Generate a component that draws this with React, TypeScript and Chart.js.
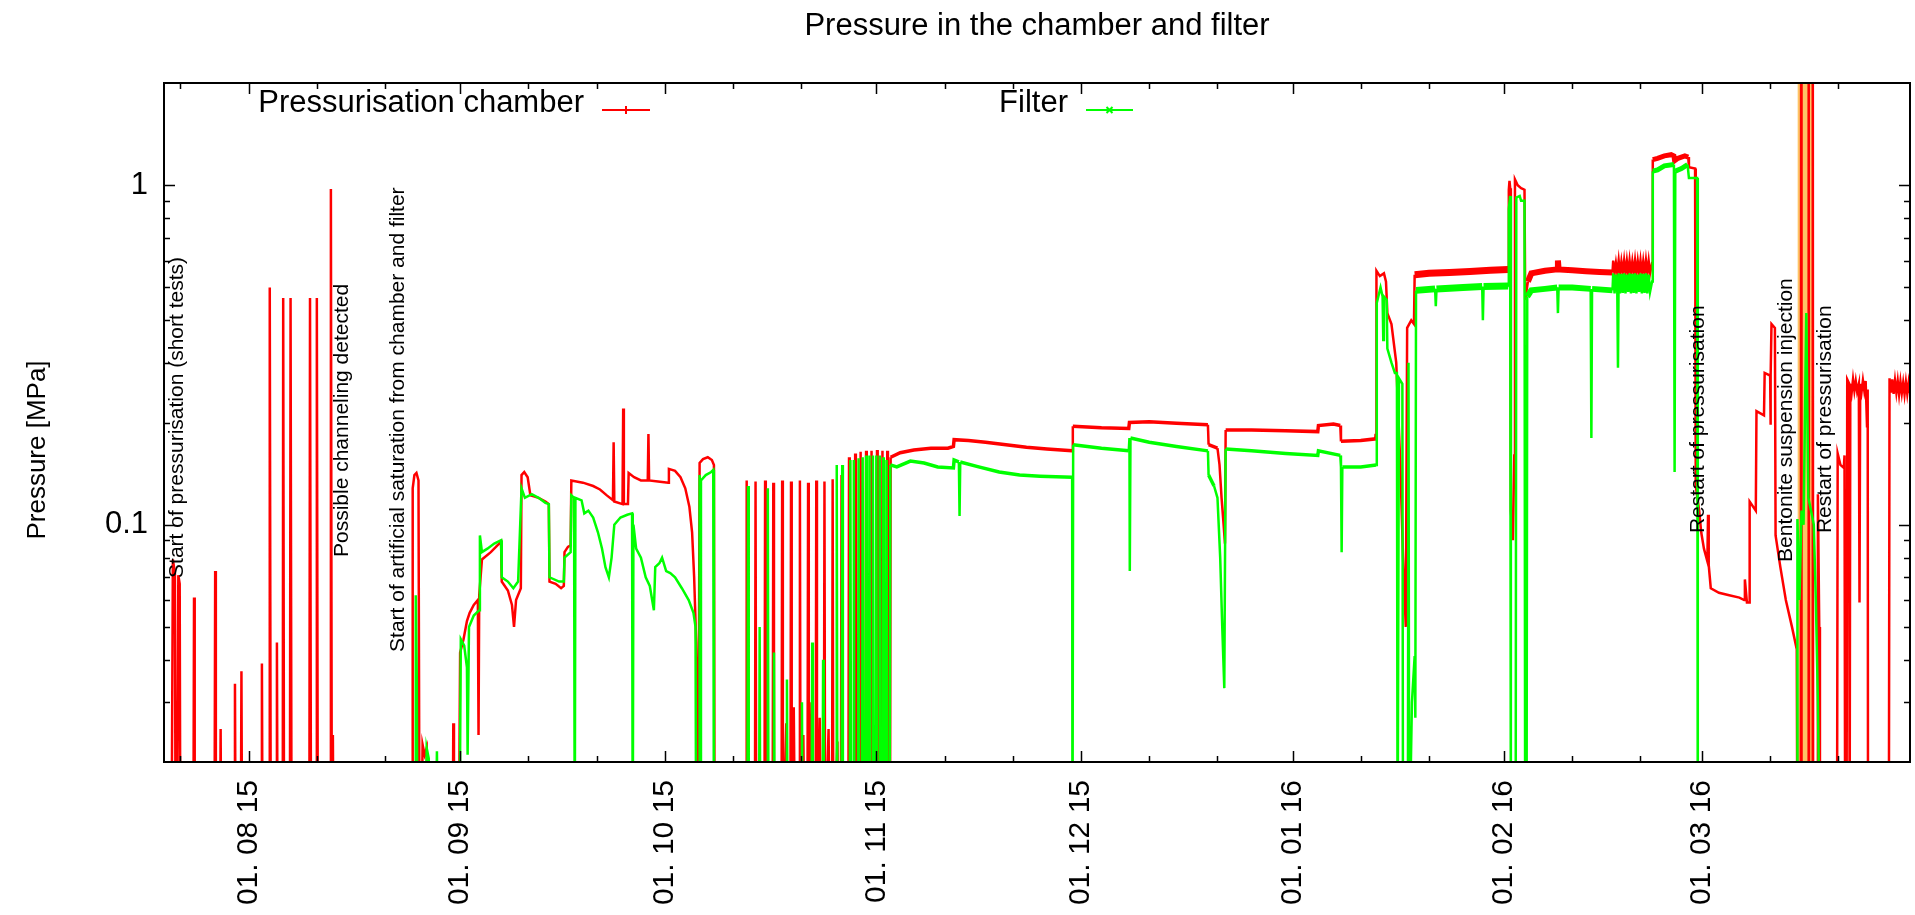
import React, { useEffect, useRef } from 'react';
import { Chart, registerables } from 'chart.js';

Chart.register(...registerables);

type Pt = [number, number];

// ---------- texts ----------
const CHART_TITLE = 'Pressure in the chamber and filter';
const Y_TITLE = 'Pressure [MPa]';
const SERIES_NAMES = ['Pressurisation chamber', 'Filter'];

// ---------- axes (x = days since 01.08.2015) ----------
const X_MIN = -12.4;
const X_MAX = 243.5;
const Y_MIN = 0.02;
const Y_MAX = 2;
const monthTickDays = [0, 31, 61, 92, 122, 153, 184, 213];
const monthTickLabels = ['01. 08 15', '01. 09 15', '01. 10 15', '01. 11 15', '01. 12 15', '01. 01 16', '01. 02 16', '01. 03 16'];
const minorTickDays = [-10, 10, 20, 41, 51, 71, 81, 102, 112, 132, 142, 163, 173, 194, 204, 223, 233];
const yMajorTicks = [0.1, 1];
const yMajorLabels = ['0.1', '1'];
const yMinorTicks = [0.02, 0.03, 0.04, 0.05, 0.06, 0.07, 0.08, 0.09, 0.2, 0.3, 0.4, 0.5, 0.6, 0.7, 0.8, 0.9];

// ---------- event annotations (text start point: day, MPa) ----------
const annotationTexts = [
  'Start of pressurisation (short tests)',
  'Possible channeling detected',
  'Start of artificial saturation from chamber and filter',
  'Restart of pressurisation',
  'Bentonite suspension injection',
  'Restart of pressurisation',
];
const annotationAnchors: Pt[] = [
  [-10.5, 0.0697],
  [13.7, 0.0803],
  [21.9, 0.0422],
  [212.4, 0.0945],
  [225.4, 0.0777],
  [231.0, 0.0945],
];

// bentonite injection period (shaded)
const injectionBand: Pt[] = [[227.0, 10], [229.3, 10]];

// periods where the logged signal is a noisy band (start day, end day)
const chamberNoisyPeriods: Pt[] = [[94.1, 165.25], [170.9, 184.6], [187.5, 199.9], [205.8, 211.0]];
const filterNoisyPeriods: Pt[] = [[94.05, 165.25], [171.1, 184.6], [187.4, 199.9], [205.8, 211.0]];

// ---------- Pressurisation chamber [MPa] ----------
const chamberTests: Pt[] = [
  [-11.3, 0.01], [-11.1, 0.079], [-10.8, 0.072], [-10.7, 0.01], [-10.5, 0.01], [-10.3, 0.071], [-10.1, 0.067], [-10.0, 0.01],
  [-8.1, 0.01], [-8.0, 0.061], [-7.9, 0.01], [-5.0, 0.01], [-4.9, 0.073], [-4.8, 0.01],
  [-4.2, 0.01], [-4.1, 0.025], [-4.0, 0.01], [-2.1, 0.01], [-2.0, 0.034], [-1.9, 0.01],
  [-1.15, 0.01], [-1.05, 0.037], [-0.95, 0.01], [1.85, 0.01], [1.95, 0.039], [2.05, 0.01],
  [3.0, 0.01], [3.1, 0.5], [3.25, 0.01], [4.05, 0.01], [4.15, 0.045], [4.25, 0.01],
  [5.0, 0.01], [5.07, 0.465], [5.2, 0.01], [6.05, 0.01], [6.15, 0.465], [6.3, 0.01],
  [8.9, 0.01], [9.0, 0.465], [9.15, 0.01], [9.9, 0.01], [10.0, 0.465], [10.15, 0.01],
  [11.95, 0.01], [12.06, 0.975], [12.2, 0.01], [12.3, 0.01], [12.35, 0.024], [12.45, 0.01],
];
const chamberSaturation: Pt[] = [
  [23.95, 0.01], [24.05, 0.128], [24.3, 0.14], [24.6, 0.142], [24.9, 0.135], [25.05, 0.01],
  [25.3, 0.01], [25.5, 0.0225], [25.8, 0.021], [26.1, 0.022], [26.3, 0.01],
  [29.9, 0.01], [30.0, 0.026], [30.1, 0.01],
  [30.8, 0.01], [31.0, 0.042], [31.5, 0.046], [32.0, 0.052], [32.4, 0.055], [33.0, 0.058], [33.6, 0.06], [33.7, 0.024], [33.8, 0.062],
  [34.2, 0.079], [35.5, 0.083], [36.5, 0.087], [37.0, 0.089], [37.1, 0.068], [38.0, 0.064], [38.6, 0.058], [38.9, 0.05], [39.2, 0.06], [39.9, 0.065],
  [40.0, 0.14], [40.4, 0.143], [40.9, 0.138], [41.3, 0.122], [42.5, 0.12], [43.5, 0.117], [44.0, 0.115],
  [44.1, 0.068], [45.0, 0.067], [45.8, 0.065], [46.2, 0.066], [46.3, 0.083], [46.8, 0.086], [47.2, 0.087],
  [47.3, 0.135], [49.0, 0.133], [50.5, 0.13], [51.5, 0.127], [52.5, 0.122], [53.4, 0.118], [53.5, 0.175], [53.6, 0.117],
  [54.8, 0.115], [54.9, 0.22], [55.0, 0.115], [55.6, 0.115],
  [55.7, 0.142], [56.5, 0.138], [57.5, 0.135], [58.5, 0.135], [58.6, 0.185], [58.7, 0.135], [60.0, 0.134], [61.5, 0.133],
  [61.6, 0.146], [62.5, 0.144], [63.3, 0.138], [64.0, 0.128], [64.6, 0.113], [65.0, 0.095], [65.3, 0.07], [65.6, 0.045], [65.8, 0.025], [65.9, 0.01],
  [66.0, 0.01], [66.1, 0.152], [66.6, 0.156], [67.3, 0.158], [67.9, 0.155], [68.2, 0.15], [68.3, 0.01],
];
const chamberComb: Pt[] = [
  [72.9, 0.01], [73.0, 0.135], [73.1, 0.01], [74.2, 0.01], [74.3, 0.134], [74.4, 0.01],
  [75.6, 0.01], [75.7, 0.135], [75.8, 0.01], [76.8, 0.01], [76.9, 0.133], [77.0, 0.01],
  [78.1, 0.01], [78.2, 0.135], [78.3, 0.01], [78.8, 0.026], [79.0, 0.01],
  [79.4, 0.01], [79.5, 0.134], [79.6, 0.01], [79.9, 0.029], [80.1, 0.01],
  [80.7, 0.01], [80.8, 0.135], [80.9, 0.01], [81.3, 0.024], [81.5, 0.01],
  [81.9, 0.01], [82.0, 0.133], [82.1, 0.01], [82.5, 0.03], [82.7, 0.01],
  [83.1, 0.01], [83.2, 0.135], [83.3, 0.01], [83.7, 0.027], [83.9, 0.01],
  [84.3, 0.01], [84.4, 0.134], [84.5, 0.01], [85.0, 0.025], [85.2, 0.01],
  [85.5, 0.01], [85.6, 0.136], [85.7, 0.01], [86.3, 0.023], [86.5, 0.01],
  [86.8, 0.01], [86.9, 0.14], [87.0, 0.01], [87.9, 0.01], [88.0, 0.158], [88.1, 0.01],
  [88.8, 0.01], [88.9, 0.162], [89.0, 0.01], [89.6, 0.01], [89.7, 0.164], [89.8, 0.01],
  [90.4, 0.01], [90.5, 0.165], [90.6, 0.01], [91.2, 0.01], [91.3, 0.165], [91.4, 0.01],
  [92.0, 0.01], [92.1, 0.166], [92.2, 0.01], [92.8, 0.01], [92.9, 0.165], [93.0, 0.01],
  [93.5, 0.01], [93.6, 0.165], [93.7, 0.01], [94.0, 0.01], [94.1, 0.158],
];
const chamberPlateau: Pt[] = [
  [95.5, 0.163], [97.5, 0.166], [100.0, 0.168], [102.5, 0.168], [103.3, 0.17], [103.4, 0.178], [105.5, 0.177],
  [108.0, 0.175], [111.0, 0.172], [114.0, 0.169], [117.0, 0.167], [120.7, 0.165],
  [120.8, 0.195], [125.0, 0.193], [129.0, 0.192], [129.1, 0.2], [132.0, 0.201], [136.0, 0.199], [140.6, 0.197],
  [140.7, 0.172], [142.0, 0.168], [142.3, 0.15], [142.6, 0.12], [142.9, 0.1], [143.1, 0.088],
  [143.2, 0.19], [147.0, 0.19], [152.0, 0.189], [156.7, 0.188],
  [156.8, 0.196], [159.0, 0.198], [160.0, 0.196], [160.1, 0.176], [163.0, 0.177], [165.2, 0.179], [165.25, 0.185],
];
const chamberHigh: Pt[] = [
  [165.3, 0.56], [165.8, 0.54], [166.4, 0.55], [166.7, 0.52], [166.9, 0.42], [167.5, 0.39], [168.2, 0.3], [168.8, 0.15],
  [169.2, 0.08], [169.6, 0.05], [169.8, 0.38], [170.4, 0.4], [170.8, 0.39], [170.9, 0.545],
  [173.0, 0.55], [176.0, 0.553], [179.0, 0.557], [182.0, 0.562], [184.6, 0.565],
  [184.7, 0.97], [184.8, 1.03], [184.9, 0.98], [185.0, 0.11], [185.3, 0.09], [185.5, 0.16], [185.6, 1.04],
  [186.0, 1.0], [186.5, 0.98], [187.0, 0.97], [187.1, 0.46], [187.5, 0.52], [188.0, 0.55],
  [190.0, 0.56], [191.8, 0.565], [191.9, 0.6], [192.0, 0.565], [194.0, 0.562], [196.0, 0.558], [198.0, 0.555], [199.9, 0.553],
  [200.0, 0.6], [200.2, 0.55], [200.4, 0.59], [200.6, 0.552], [200.8, 0.6], [201.0, 0.548], [201.2, 0.595], [201.4, 0.553],
  [201.6, 0.6], [201.8, 0.55], [202.0, 0.598], [202.2, 0.549], [202.4, 0.6], [202.6, 0.552], [202.8, 0.595], [203.0, 0.55],
  [203.2, 0.6], [203.4, 0.548], [203.6, 0.597], [203.8, 0.552], [204.0, 0.6], [204.2, 0.55], [204.4, 0.596], [204.6, 0.549],
  [204.8, 0.6], [205.0, 0.551], [205.2, 0.598], [205.4, 0.55], [205.7, 0.59],
  [205.8, 1.19], [206.5, 1.2], [207.5, 1.22], [208.5, 1.23], [208.9, 1.22], [209.0, 1.18], [209.5, 1.2],
  [210.5, 1.22], [211.0, 1.21], [211.1, 1.13], [212.0, 1.12],
];
const chamberRestart: Pt[] = [
  [212.1, 0.13], [212.6, 0.11], [212.9, 0.095], [213.3, 0.085], [213.8, 0.078], [213.9, 0.107], [214.0, 0.076],
  [214.3, 0.065], [215.5, 0.063], [217.0, 0.062], [218.5, 0.061], [219.2, 0.06], [219.3, 0.069], [219.6, 0.059], [219.95, 0.059],
  [220.0, 0.117], [220.9, 0.11], [221.0, 0.216], [222.1, 0.21], [222.2, 0.28], [223.0, 0.275], [223.05, 0.197], [223.1, 0.275],
  [223.2, 0.39], [223.7, 0.38], [223.8, 0.093], [224.5, 0.075], [225.3, 0.06], [226.2, 0.05], [226.9, 0.043],
];
const chamberInjection: Pt[] = [
  [227.0, 0.01], [227.5, 0.01], [227.55, 5], [227.6, 0.01], [228.6, 0.01], [228.65, 5], [228.7, 0.01],
  [229.2, 0.01], [229.25, 5], [229.3, 0.01],
];
const chamberFinal: Pt[] = [
  [229.9, 0.01], [230.0, 0.123], [230.2, 0.05], [230.3, 0.01],
  [232.8, 0.01], [232.9, 0.162], [233.3, 0.15], [233.8, 0.147], [233.9, 0.16], [234.0, 0.01],
  [234.2, 0.01], [234.3, 0.268], [234.6, 0.26], [234.65, 0.01], [234.75, 0.26], [234.95, 0.245], [235.15, 0.268],
  [235.35, 0.248], [235.55, 0.265], [235.75, 0.247], [236.0, 0.26], [236.1, 0.059], [236.2, 0.26], [236.4, 0.246],
  [236.6, 0.266], [236.8, 0.248], [237.0, 0.265], [237.2, 0.195], [237.3, 0.25], [237.35, 0.01],
  [240.4, 0.01], [240.5, 0.27], [240.7, 0.245], [240.9, 0.268], [241.1, 0.243], [241.3, 0.266], [241.5, 0.245],
  [241.7, 0.265], [241.9, 0.242], [242.1, 0.264], [242.3, 0.244], [242.5, 0.262], [242.7, 0.242], [242.9, 0.263],
  [243.1, 0.243], [243.3, 0.262], [243.5, 0.244], [243.7, 0.26],
];

// ---------- Filter [MPa] ----------
const filterSaturation: Pt[] = [
  [24.45, 0.01], [24.5, 0.062], [24.65, 0.035], [24.75, 0.01],
  [25.9, 0.01], [26.1, 0.022], [26.4, 0.0205], [26.6, 0.01], [27.4, 0.01], [27.6, 0.0215], [27.8, 0.01],
  [30.9, 0.01], [31.1, 0.046], [31.6, 0.044], [32.0, 0.038], [32.1, 0.021], [32.3, 0.05], [33.0, 0.054], [33.8, 0.056],
  [33.9, 0.093], [34.2, 0.083], [35.0, 0.085], [36.0, 0.088], [37.0, 0.09], [37.1, 0.07], [38.0, 0.068], [38.8, 0.065], [39.5, 0.068],
  [40.0, 0.128], [40.5, 0.12], [41.5, 0.123], [42.5, 0.12], [43.5, 0.116], [44.0, 0.115],
  [44.1, 0.07], [45.5, 0.068], [46.2, 0.068], [46.3, 0.08], [47.2, 0.083],
  [47.3, 0.122], [47.7, 0.12], [47.8, 0.01], [47.9, 0.12], [48.8, 0.118], [49.2, 0.108], [49.8, 0.11], [50.5, 0.105],
  [51.2, 0.095], [51.8, 0.085], [52.3, 0.075], [52.8, 0.07], [53.2, 0.08], [53.6, 0.1], [54.5, 0.105], [55.5, 0.107],
  [56.2, 0.108], [56.3, 0.01], [56.4, 0.1], [56.8, 0.085], [57.5, 0.08], [58.2, 0.07], [58.8, 0.066], [59.4, 0.056],
  [59.6, 0.075], [60.2, 0.077], [60.6, 0.08], [61.2, 0.073], [61.8, 0.072], [62.5, 0.07], [63.5, 0.065], [64.5, 0.06],
  [65.2, 0.055], [65.5, 0.05], [65.6, 0.01],
  [66.05, 0.01], [66.1, 0.14], [66.2, 0.01], [66.3, 0.135], [67.0, 0.14], [67.8, 0.143], [68.1, 0.145], [68.2, 0.01],
];
const filterComb: Pt[] = [
  [73.1, 0.01], [73.2, 0.13], [73.3, 0.01], [74.8, 0.01], [74.9, 0.05], [75.0, 0.01],
  [76.0, 0.01], [76.1, 0.128], [76.2, 0.01], [76.9, 0.01], [77.0, 0.042], [77.1, 0.01],
  [78.8, 0.01], [78.9, 0.035], [79.0, 0.01], [81.0, 0.01], [81.1, 0.03], [81.2, 0.01],
  [82.5, 0.01], [82.6, 0.045], [82.7, 0.01], [84.1, 0.01], [84.2, 0.04], [84.3, 0.01],
  [86.1, 0.01], [86.2, 0.15], [86.3, 0.01], [86.9, 0.01], [87.0, 0.15], [87.1, 0.01],
  [88.1, 0.01], [88.2, 0.155], [88.3, 0.01], [88.6, 0.01], [88.7, 0.155], [88.8, 0.01],
  [89.3, 0.01], [89.4, 0.157], [89.5, 0.01], [89.9, 0.01], [90.0, 0.158], [90.1, 0.01],
  [90.4, 0.01], [90.5, 0.16], [90.6, 0.01], [90.9, 0.01], [91.0, 0.16], [91.1, 0.01],
  [91.4, 0.01], [91.5, 0.16], [91.6, 0.01], [91.9, 0.01], [92.0, 0.16], [92.1, 0.01],
  [92.4, 0.01], [92.5, 0.16], [92.6, 0.01], [92.9, 0.01], [93.0, 0.158], [93.1, 0.01],
  [93.4, 0.01], [93.5, 0.155], [93.6, 0.01], [93.95, 0.01], [94.05, 0.15],
];
const filterPlateau: Pt[] = [
  [95.0, 0.148], [97.0, 0.154], [99.0, 0.152], [101.0, 0.148], [103.3, 0.147], [103.4, 0.155], [104.1, 0.153],
  [104.2, 0.106], [104.3, 0.153], [107.0, 0.148], [110.0, 0.143], [113.0, 0.14], [116.0, 0.139], [120.7, 0.138],
  [120.75, 0.01], [120.85, 0.172], [125.0, 0.168], [129.0, 0.165], [129.1, 0.18], [129.15, 0.073], [129.25, 0.18],
  [132.0, 0.175], [136.0, 0.17], [140.6, 0.165],
  [140.7, 0.14], [141.5, 0.13], [142.0, 0.12], [142.4, 0.08], [142.7, 0.05], [143.0, 0.033],
  [143.2, 0.167], [147.0, 0.165], [152.0, 0.162], [156.7, 0.16],
  [156.8, 0.165], [160.0, 0.16], [160.1, 0.148], [160.2, 0.083], [160.3, 0.148], [163.0, 0.148], [165.25, 0.15],
];
const filterHigh: Pt[] = [
  [165.35, 0.45], [165.9, 0.5], [166.2, 0.47], [166.3, 0.35], [166.4, 0.47], [166.8, 0.46], [166.9, 0.33],
  [167.5, 0.3], [168.0, 0.28], [168.3, 0.28], [168.4, 0.01], [168.6, 0.27], [169.1, 0.26], [169.2, 0.01],
  [169.9, 0.01], [170.0, 0.3], [170.1, 0.01], [170.5, 0.03], [170.9, 0.041], [171.0, 0.027], [171.1, 0.49],
  [173.9, 0.495], [174.0, 0.44], [174.1, 0.495], [178.0, 0.5], [180.8, 0.503], [180.9, 0.4], [181.0, 0.503], [184.6, 0.505],
  [184.7, 0.85], [184.9, 0.93], [185.0, 0.01], [185.7, 0.01], [185.8, 0.92], [186.3, 0.93], [186.5, 0.9], [187.0, 0.9],
  [187.1, 0.01], [187.3, 0.01], [187.4, 0.47], [188.0, 0.49], [190.0, 0.495], [191.8, 0.5], [191.9, 0.42], [192.0, 0.5],
  [194.0, 0.5], [196.7, 0.495], [196.8, 0.18], [196.9, 0.495], [199.9, 0.49],
  [200.0, 0.55], [200.2, 0.48], [200.4, 0.545], [200.6, 0.485], [200.7, 0.29], [200.8, 0.55], [201.0, 0.48],
  [201.2, 0.548], [201.4, 0.482], [201.6, 0.55], [201.8, 0.48], [202.0, 0.545], [202.2, 0.485], [202.4, 0.55],
  [202.6, 0.48], [202.8, 0.548], [203.0, 0.482], [203.2, 0.55], [203.4, 0.48], [203.6, 0.545], [203.8, 0.485],
  [204.0, 0.55], [204.2, 0.48], [204.4, 0.548], [204.6, 0.482], [204.8, 0.55], [205.0, 0.48], [205.2, 0.545],
  [205.4, 0.485], [205.7, 0.52],
  [205.8, 1.1], [206.5, 1.11], [207.5, 1.14], [208.9, 1.15], [209.0, 0.143], [209.1, 1.1], [210.0, 1.12], [210.9, 1.15],
  [211.1, 1.05], [212.3, 1.05], [212.4, 0.01],
];
const filterInjection: Pt[] = [
  [226.95, 0.01], [227.0, 0.104], [227.3, 0.06], [227.6, 0.11], [227.9, 0.1], [228.3, 0.42], [228.6, 0.12],
  [229.0, 0.11], [229.4, 0.1], [229.7, 0.06], [230.0, 0.03], [230.1, 0.021], [230.2, 0.01],
];

// ---------- styling ----------
const FONT_FAMILY = "'Liberation Sans', Arial, Helvetica, sans-serif";
const RED = '#ff0000';
const GREEN = '#00ff00';
const BAND = '#fdc466';
const LINE_W = 2.5;
const chamberNoiseWidths = [3.5, 7, 6, 5];
const filterNoiseWidths = [3.5, 7, 6, 5];

const toXY = (pts: Pt[]) => pts.map(([x, y]) => ({ x, y }));

// thicker stroke on flat stretches of a noisy period (keeps spikes/steps thin)
const noisyWidth = (periods: Pt[], widths: number[]) => (c: any) => {
  const x0 = c.p0.parsed.x, x1 = c.p1.parsed.x;
  const y0 = c.p0.parsed.y, y1 = c.p1.parsed.y;
  const ratio = Math.max(y0, y1) / Math.min(y0, y1);
  if (ratio > 1.08) return LINE_W;
  for (let i = 0; i < periods.length; i++) {
    if (x0 >= periods[i][0] && x1 <= periods[i][1]) return widths[i];
  }
  return LINE_W;
};

const gnuplotDecor = {
  id: 'gnuplotDecor',
  afterDatasetsDraw(chart: any) {
    const { ctx, chartArea: a, scales } = chart;
    const xs = scales.x;
    const ys = scales.y;
    const L = a.left, R = a.right, T = a.top, B = a.bottom;
    ctx.save();

    // tick marks (inward, mirrored)
    ctx.strokeStyle = '#000';
    ctx.lineWidth = 1.5;
    ctx.beginPath();
    const vTick = (d: number, len: number) => {
      if (d <= X_MIN || d >= X_MAX) return;
      const px = Math.round(xs.getPixelForValue(d)) + 0.5;
      ctx.moveTo(px, B); ctx.lineTo(px, B - len);
      ctx.moveTo(px, T); ctx.lineTo(px, T + len);
    };
    const hTick = (v: number, len: number) => {
      if (v <= Y_MIN || v >= Y_MAX) return;
      const py = Math.round(ys.getPixelForValue(v)) + 0.5;
      ctx.moveTo(L, py); ctx.lineTo(L + len, py);
      ctx.moveTo(R, py); ctx.lineTo(R - len, py);
    };
    monthTickDays.forEach((d) => vTick(d, 11));
    minorTickDays.forEach((d) => vTick(d, 6));
    yMajorTicks.forEach((v) => hTick(v, 11));
    yMinorTicks.forEach((v) => hTick(v, 6));
    ctx.stroke();

    // frame
    ctx.lineWidth = 2;
    ctx.strokeRect(L, T, R - L, B - T);

    ctx.fillStyle = '#000';
    // x tick labels (rotated)
    ctx.font = `30px ${FONT_FAMILY}`;
    monthTickDays.forEach((d, i) => {
      const px = xs.getPixelForValue(d);
      ctx.save();
      ctx.translate(px, B + 18);
      ctx.rotate(-Math.PI / 2);
      ctx.textAlign = 'right';
      ctx.textBaseline = 'middle';
      ctx.fillText(monthTickLabels[i], 0, 0);
      ctx.restore();
    });
    // y tick labels
    ctx.font = `31px ${FONT_FAMILY}`;
    ctx.textAlign = 'right';
    ctx.textBaseline = 'middle';
    yMajorTicks.forEach((v, i) => {
      ctx.fillText(yMajorLabels[i], L - 16, ys.getPixelForValue(v));
    });

    // y title
    ctx.save();
    ctx.font = `26px ${FONT_FAMILY}`;
    ctx.translate(38, 450);
    ctx.rotate(-Math.PI / 2);
    ctx.textAlign = 'center';
    ctx.textBaseline = 'middle';
    ctx.fillText(Y_TITLE, 0, 0);
    ctx.restore();

    // chart title
    ctx.font = `31px ${FONT_FAMILY}`;
    ctx.textAlign = 'center';
    ctx.textBaseline = 'alphabetic';
    ctx.fillText(CHART_TITLE, (L + R) / 2, 35);

    // legend
    const legendRows = [
      { textRight: 584, x0: 602, x1: 650, color: RED, marker: 'plus' },
      { textRight: 1068, x0: 1086, x1: 1133, color: GREEN, marker: 'cross' },
    ];
    legendRows.forEach((row, i) => {
      ctx.fillStyle = '#000';
      ctx.textAlign = 'right';
      ctx.fillText(SERIES_NAMES[i], row.textRight, 112);
      ctx.strokeStyle = row.color;
      ctx.lineWidth = 2;
      ctx.beginPath();
      ctx.moveTo(row.x0, 110); ctx.lineTo(row.x1, 110);
      const mx = (row.x0 + row.x1) / 2;
      if (row.marker === 'plus') {
        ctx.moveTo(mx, 106); ctx.lineTo(mx, 114);
      } else {
        ctx.moveTo(mx - 3, 107); ctx.lineTo(mx + 3, 113);
        ctx.moveTo(mx - 3, 113); ctx.lineTo(mx + 3, 107);
      }
      ctx.stroke();
    });

    // event annotations (rotated)
    ctx.fillStyle = '#000';
    ctx.font = `21px ${FONT_FAMILY}`;
    annotationTexts.forEach((t, i) => {
      const [d, v] = annotationAnchors[i];
      ctx.save();
      ctx.translate(xs.getPixelForValue(d), ys.getPixelForValue(v));
      ctx.rotate(-Math.PI / 2);
      ctx.textAlign = 'left';
      ctx.textBaseline = 'middle';
      ctx.fillText(t, 0, 0);
      ctx.restore();
    });

    ctx.restore();
  },
};

export default function App() {
  const canvasRef = useRef<HTMLCanvasElement | null>(null);

  useEffect(() => {
    document.body.style.margin = '0';
    document.body.style.overflow = 'hidden';
    const canvas = canvasRef.current;
    if (!canvas) return;

    const chamber = [
      ...chamberTests, ...chamberSaturation, ...chamberComb, ...chamberPlateau,
      ...chamberHigh, ...chamberRestart, ...chamberInjection, ...chamberFinal,
    ];
    const filter = [...filterSaturation, ...filterComb, ...filterPlateau, ...filterHigh, ...filterInjection];

    const chart = new Chart(canvas, {
      type: 'line',
      data: {
        datasets: [
          {
            label: SERIES_NAMES[0],
            data: toXY(chamber),
            borderColor: RED,
            borderWidth: LINE_W,
            pointRadius: 0,
            fill: false,
            tension: 0,
            order: 1,
            clip: 0,
            segment: { borderWidth: noisyWidth(chamberNoisyPeriods, chamberNoiseWidths) },
          } as any,
          {
            label: SERIES_NAMES[1],
            data: toXY(filter),
            borderColor: GREEN,
            borderWidth: LINE_W,
            pointRadius: 0,
            fill: false,
            tension: 0,
            order: 0,
            clip: 0,
            segment: { borderWidth: noisyWidth(filterNoisyPeriods, filterNoiseWidths) },
          } as any,
          {
            label: 'injection',
            data: toXY(injectionBand),
            borderColor: 'rgba(0,0,0,0)',
            borderWidth: 0,
            backgroundColor: BAND,
            pointRadius: 0,
            fill: 'start',
            order: 2,
            clip: 0,
          } as any,
        ],
      },
      options: {
        animation: false,
        responsive: false,
        devicePixelRatio: 1,
        events: [],
        layout: { padding: { left: 164, right: 5, top: 83, bottom: 153 } },
        plugins: {
          legend: { display: false },
          title: { display: false },
          tooltip: { enabled: false },
        },
        scales: {
          x: { type: 'linear', min: X_MIN, max: X_MAX, display: false },
          y: { type: 'logarithmic', min: Y_MIN, max: Y_MAX, display: false },
        },
      },
      plugins: [gnuplotDecor],
    });

    return () => chart.destroy();
  }, []);

  return (
    <div style={{ position: 'absolute', left: 0, top: 0, width: 1915, height: 915, background: '#fff' }}>
      <canvas ref={canvasRef} width={1915} height={915} style={{ display: 'block' }} />
    </div>
  );
}
